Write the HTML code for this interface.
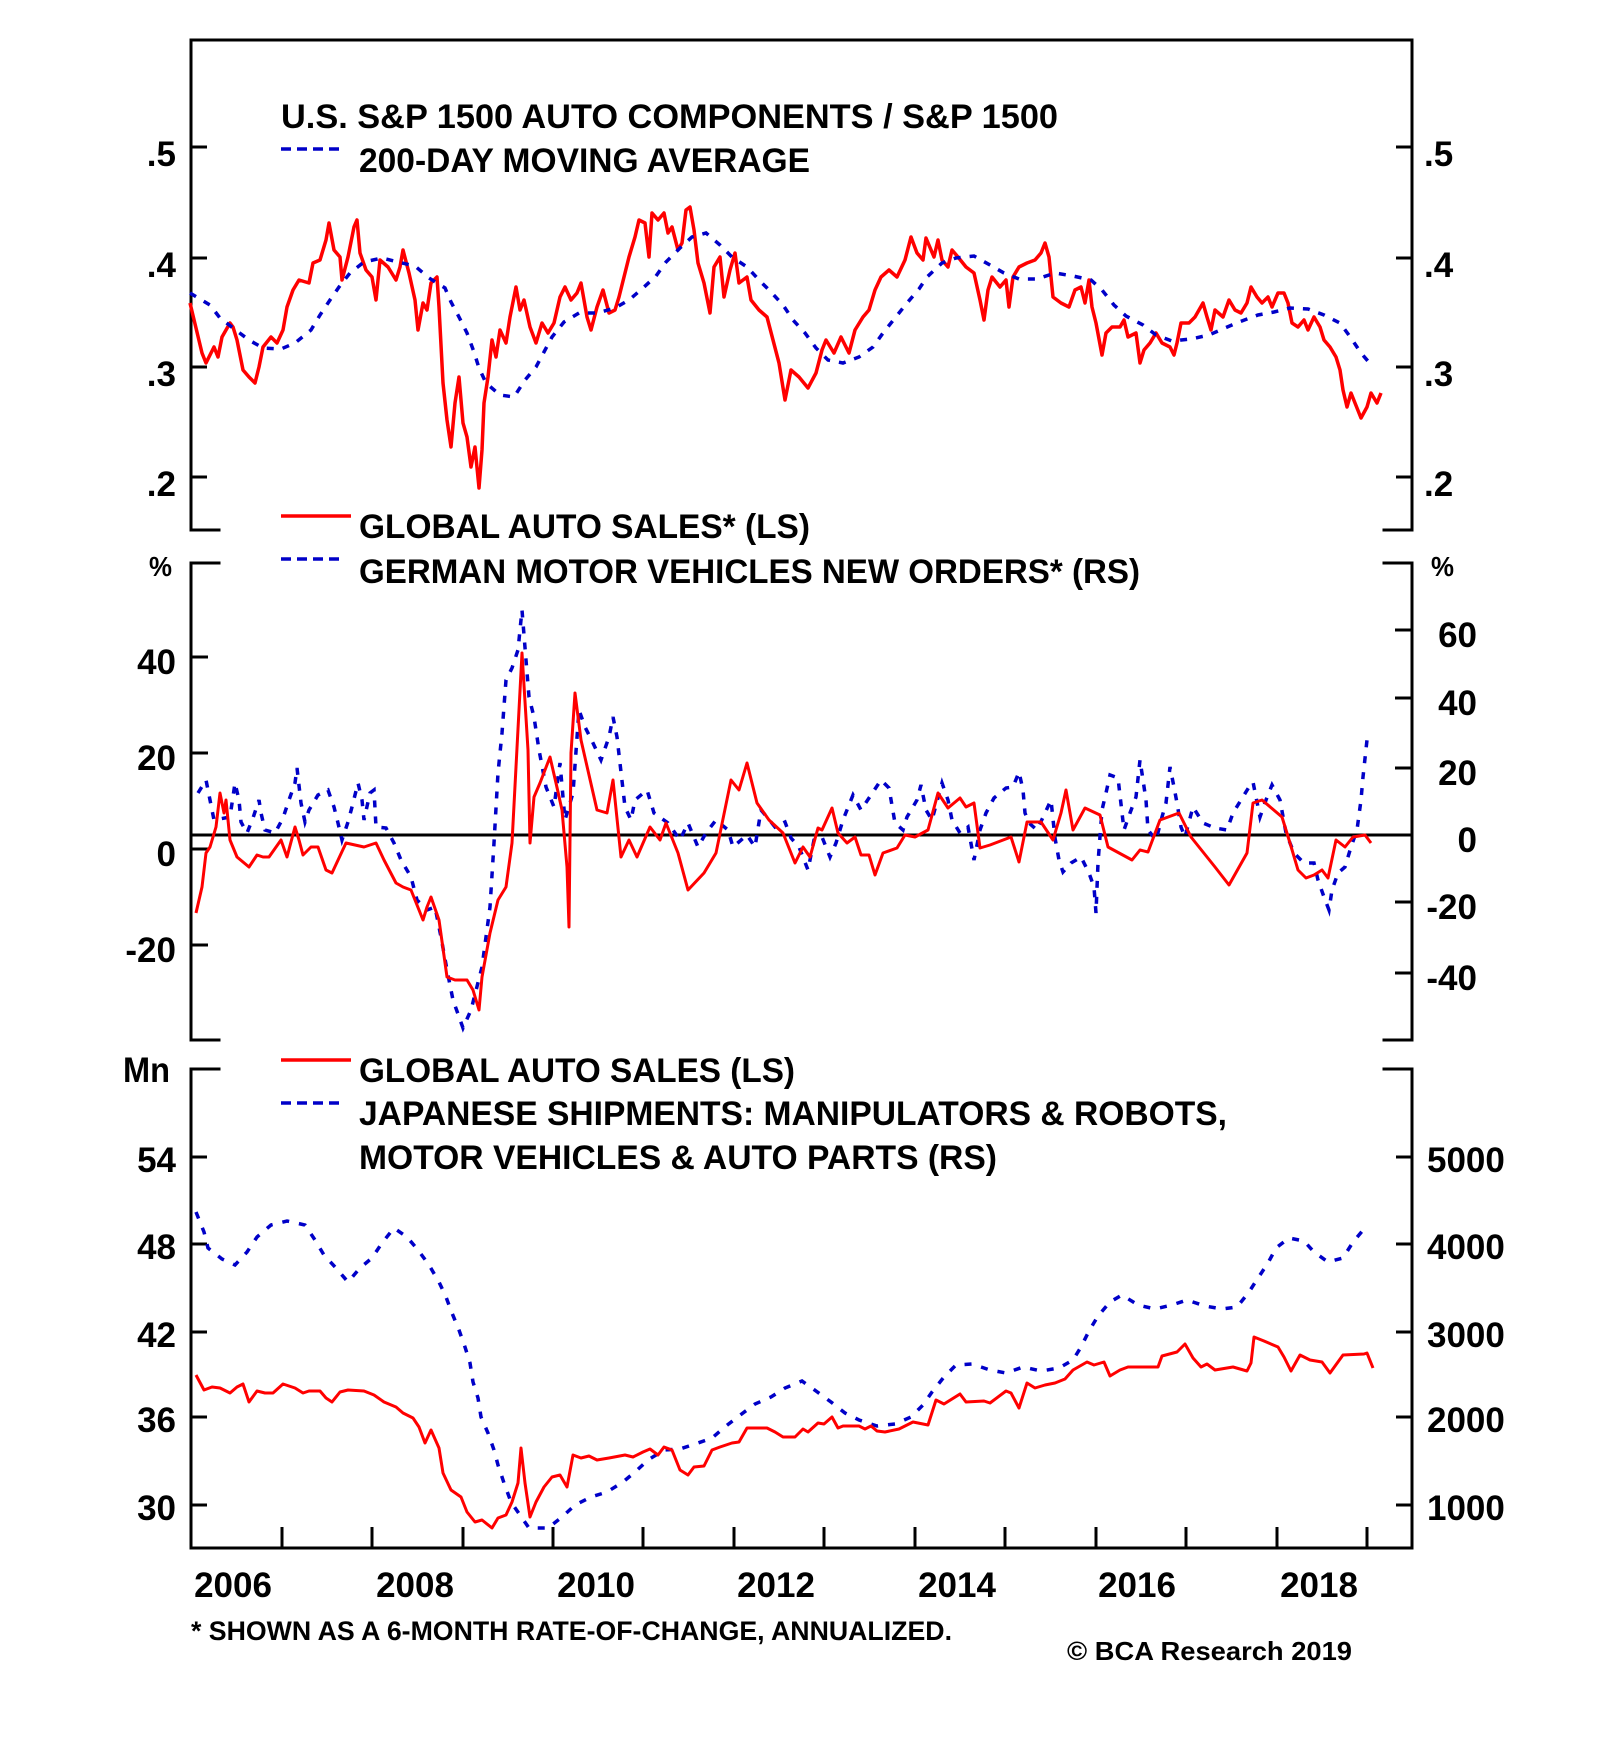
<!DOCTYPE html>
<html>
<head>
<meta charset="utf-8">
<style>
  html, body { margin: 0; padding: 0; background: #ffffff; }
  svg { display: block; }
  text { font-family: "Liberation Sans", Arial, sans-serif; font-weight: bold; fill: #000; }
</style>
</head>
<body>
<svg width="1600" height="1758" viewBox="0 0 1600 1758" xmlns="http://www.w3.org/2000/svg">
  <rect x="0" y="0" width="1600" height="1758" fill="#fff"/>

  <!-- Frame -->
  <g stroke="#000" stroke-width="3" fill="none" stroke-linecap="square">
    <line x1="191" y1="40" x2="1412" y2="40"/>
    <line x1="191" y1="40" x2="191" y2="530"/>
    <line x1="1412" y1="40" x2="1412" y2="530"/>
    <line x1="191" y1="530" x2="219" y2="530"/>
    <line x1="1384" y1="530" x2="1412" y2="530"/>

    <line x1="191" y1="563" x2="219" y2="563"/>
    <line x1="1384" y1="563" x2="1412" y2="563"/>
    <line x1="191" y1="563" x2="191" y2="1040"/>
    <line x1="1412" y1="563" x2="1412" y2="1040"/>
    <line x1="191" y1="1040" x2="219" y2="1040"/>
    <line x1="1384" y1="1040" x2="1412" y2="1040"/>

    <line x1="191" y1="1069" x2="219" y2="1069"/>
    <line x1="1384" y1="1069" x2="1412" y2="1069"/>
    <line x1="191" y1="1069" x2="191" y2="1548"/>
    <line x1="1412" y1="1069" x2="1412" y2="1548"/>
    <line x1="191" y1="1548" x2="1412" y2="1548"/>
  </g>

  <!-- Ticks -->
  <g stroke="#000" stroke-width="3">
    <!-- panel 1 -->
    <line x1="191" y1="147" x2="207" y2="147"/>
    <line x1="191" y1="258" x2="207" y2="258"/>
    <line x1="191" y1="367" x2="207" y2="367"/>
    <line x1="191" y1="477" x2="207" y2="477"/>
    <line x1="1396" y1="147" x2="1412" y2="147"/>
    <line x1="1396" y1="258" x2="1412" y2="258"/>
    <line x1="1396" y1="367" x2="1412" y2="367"/>
    <line x1="1396" y1="477" x2="1412" y2="477"/>
    <!-- panel 2 left -->
    <line x1="191" y1="657" x2="208" y2="657"/>
    <line x1="191" y1="753" x2="208" y2="753"/>
    <line x1="191" y1="849" x2="208" y2="849"/>
    <line x1="191" y1="945" x2="208" y2="945"/>
    <!-- panel 2 right -->
    <line x1="1395" y1="630" x2="1412" y2="630"/>
    <line x1="1395" y1="698" x2="1412" y2="698"/>
    <line x1="1395" y1="768" x2="1412" y2="768"/>
    <line x1="1395" y1="902" x2="1412" y2="902"/>
    <line x1="1395" y1="973" x2="1412" y2="973"/>
    <!-- panel 3 -->
    <line x1="191" y1="1157" x2="207" y2="1157"/>
    <line x1="191" y1="1244" x2="207" y2="1244"/>
    <line x1="191" y1="1332" x2="207" y2="1332"/>
    <line x1="191" y1="1417" x2="207" y2="1417"/>
    <line x1="191" y1="1505" x2="207" y2="1505"/>
    <line x1="1396" y1="1157" x2="1412" y2="1157"/>
    <line x1="1396" y1="1244" x2="1412" y2="1244"/>
    <line x1="1396" y1="1332" x2="1412" y2="1332"/>
    <line x1="1396" y1="1417" x2="1412" y2="1417"/>
    <line x1="1396" y1="1505" x2="1412" y2="1505"/>
    <!-- x ticks -->
    <line x1="282" y1="1527" x2="282" y2="1548"/>
    <line x1="372" y1="1527" x2="372" y2="1548"/>
    <line x1="463" y1="1527" x2="463" y2="1548"/>
    <line x1="553" y1="1527" x2="553" y2="1548"/>
    <line x1="643" y1="1527" x2="643" y2="1548"/>
    <line x1="734" y1="1527" x2="734" y2="1548"/>
    <line x1="824" y1="1527" x2="824" y2="1548"/>
    <line x1="915" y1="1527" x2="915" y2="1548"/>
    <line x1="1005" y1="1527" x2="1005" y2="1548"/>
    <line x1="1096" y1="1527" x2="1096" y2="1548"/>
    <line x1="1186" y1="1527" x2="1186" y2="1548"/>
    <line x1="1277" y1="1527" x2="1277" y2="1548"/>
    <line x1="1367" y1="1527" x2="1367" y2="1548"/>
  </g>

  <!-- Panel 2 zero line -->
  <line x1="191" y1="835" x2="1412" y2="835" stroke="#000" stroke-width="3"/>

  <!-- Axis labels panel 1 -->
  <g font-size="35">
    <text x="176" y="166" text-anchor="end">.5</text>
    <text x="176" y="277" text-anchor="end">.4</text>
    <text x="176" y="386" text-anchor="end">.3</text>
    <text x="176" y="496" text-anchor="end">.2</text>
    <text x="1424" y="166">.5</text>
    <text x="1424" y="277">.4</text>
    <text x="1424" y="386">.3</text>
    <text x="1424" y="496">.2</text>

    <!-- panel 2 -->
    <text x="176" y="674" text-anchor="end">40</text>
    <text x="176" y="770" text-anchor="end">20</text>
    <text x="176" y="866" text-anchor="end">0</text>
    <text x="176" y="962" text-anchor="end">-20</text>
    <text x="1477" y="647" text-anchor="end">60</text>
    <text x="1477" y="715" text-anchor="end">40</text>
    <text x="1477" y="785" text-anchor="end">20</text>
    <text x="1477" y="852" text-anchor="end">0</text>
    <text x="1477" y="919" text-anchor="end">-20</text>
    <text x="1477" y="990" text-anchor="end">-40</text>

    <!-- panel 3 -->
    <text x="176" y="1172" text-anchor="end">54</text>
    <text x="176" y="1259" text-anchor="end">48</text>
    <text x="176" y="1347" text-anchor="end">42</text>
    <text x="176" y="1432" text-anchor="end">36</text>
    <text x="176" y="1520" text-anchor="end">30</text>
    <text x="1427" y="1172">5000</text>
    <text x="1427" y="1259">4000</text>
    <text x="1427" y="1347">3000</text>
    <text x="1427" y="1432">2000</text>
    <text x="1427" y="1520">1000</text>

    <!-- years -->
    <text x="233" y="1597" text-anchor="middle">2006</text>
    <text x="415" y="1597" text-anchor="middle">2008</text>
    <text x="596" y="1597" text-anchor="middle">2010</text>
    <text x="776" y="1597" text-anchor="middle">2012</text>
    <text x="957" y="1597" text-anchor="middle">2014</text>
    <text x="1137" y="1597" text-anchor="middle">2016</text>
    <text x="1319" y="1597" text-anchor="middle">2018</text>

    <text x="123" y="1082" textLength="47" lengthAdjust="spacingAndGlyphs">Mn</text>
  </g>
  <text x="149" y="576" font-size="28" textLength="23" lengthAdjust="spacingAndGlyphs">%</text>
  <text x="1431" y="576" font-size="28" textLength="23" lengthAdjust="spacingAndGlyphs">%</text>

  <!-- Legends / titles -->
  <g font-size="34">
    <text x="281" y="128" textLength="777" lengthAdjust="spacingAndGlyphs">U.S. S&amp;P 1500 AUTO COMPONENTS / S&amp;P 1500</text>
    <text x="359" y="172" textLength="451" lengthAdjust="spacingAndGlyphs">200-DAY MOVING AVERAGE</text>
    <text x="359" y="538" textLength="451" lengthAdjust="spacingAndGlyphs">GLOBAL AUTO SALES* (LS)</text>
    <text x="359" y="583" textLength="781" lengthAdjust="spacingAndGlyphs">GERMAN MOTOR VEHICLES NEW ORDERS* (RS)</text>
    <text x="359" y="1082" textLength="436" lengthAdjust="spacingAndGlyphs">GLOBAL AUTO SALES (LS)</text>
    <text x="359" y="1125" textLength="868" lengthAdjust="spacingAndGlyphs">JAPANESE SHIPMENTS: MANIPULATORS &amp; ROBOTS,</text>
    <text x="359" y="1169" textLength="638" lengthAdjust="spacingAndGlyphs">MOTOR VEHICLES &amp; AUTO PARTS (RS)</text>
  </g>
  <g stroke-width="3.5" fill="none">
    <line x1="281" y1="149" x2="342" y2="149" stroke="#0000c8" stroke-dasharray="10 6"/>
    <line x1="281" y1="516" x2="351" y2="516" stroke="#ff0000"/>
    <line x1="281" y1="559" x2="342" y2="559" stroke="#0000c8" stroke-dasharray="10 6"/>
    <line x1="281" y1="1060" x2="351" y2="1060" stroke="#ff0000"/>
    <line x1="281" y1="1103" x2="342" y2="1103" stroke="#0000c8" stroke-dasharray="10 6"/>
  </g>

  <text x="191" y="1640" font-size="27" textLength="761" lengthAdjust="spacingAndGlyphs">* SHOWN AS A 6-MONTH RATE-OF-CHANGE, ANNUALIZED.</text>
  <text x="1067" y="1660" font-size="26" textLength="285" lengthAdjust="spacingAndGlyphs">© BCA Research 2019</text>

  <!-- Panel 1 series -->
  <polyline fill="none" stroke="#ff0000" stroke-width="3.5" stroke-linejoin="round" points="190,303 202,353 206,363 214,347 218,357 222,337 230,323 233,327 237,340 243,370 249,377 255,383 259,367 263,347 271,337 277,343 283,330 287,307 293,290 299,280 309,283 313,263 320,260 326,240 329,223 334,250 340,257 342,280 348,257 354,227 357,220 360,253 366,270 372,277 376,300 380,260 388,267 396,280 400,267 403,250 409,273 415,300 418,330 423,303 427,310 431,283 437,277 439,307 443,383 447,420 451,447 455,403 459,377 463,423 467,437 471,467 475,447 479,488 482,450 484,403 488,377 492,340 496,357 500,330 506,343 510,317 516,287 520,310 524,300 530,327 536,343 542,323 548,333 554,323 560,297 565,287 571,300 577,293 581,283 587,317 591,330 597,307 603,290 609,313 615,310 619,297 625,273 629,257 635,237 639,220 645,223 649,257 652,213 658,220 664,213 668,233 672,227 678,250 682,243 686,210 690,207 694,230 698,263 704,283 710,313 714,267 720,257 724,297 730,270 735,253 739,283 747,277 751,300 759,310 767,317 773,340 779,363 785,400 791,370 799,377 808,388 816,373 822,350 826,340 834,353 841,337 849,353 855,330 863,317 869,310 875,290 881,277 889,270 897,277 905,260 911,237 917,253 923,260 926,238 934,257 938,240 942,260 948,267 952,250 958,257 966,267 974,273 980,300 984,320 988,290 992,277 1000,287 1006,280 1009,307 1013,277 1019,267 1027,263 1035,260 1041,253 1045,243 1049,257 1053,297 1061,303 1069,307 1075,290 1081,287 1085,303 1089,280 1092,307 1096,323 1102,355 1106,333 1112,327 1120,327 1124,320 1128,337 1136,333 1140,363 1144,350 1150,343 1156,333 1162,343 1170,347 1174,355 1177,343 1181,323 1189,323 1195,317 1203,303 1207,317 1211,330 1215,310 1223,317 1229,300 1235,310 1241,313 1247,303 1251,287 1257,297 1262,303 1268,297 1272,307 1278,293 1284,293 1288,303 1292,323 1298,327 1304,320 1308,330 1314,317 1320,327 1324,340 1330,347 1336,357 1340,370 1343,390 1347,407 1351,393 1355,403 1361,418 1367,407 1371,393 1377,403 1381,393"/>
  <polyline fill="none" stroke="#0000c8" stroke-width="3.5" stroke-dasharray="7 9" points="190,293 210,305 220,318 233,328 249,340 263,348 281,349 295,343 311,330 320,315 330,300 339,287 350,273 364,262 382,258 398,262 415,266 429,278 445,288 451,302 459,317 467,333 474,352 479,368 486,383 500,395 514,397 525,380 536,367 544,352 552,337 564,322 579,313 597,313 615,308 629,300 643,288 656,276 666,262 680,248 692,237 706,233 720,245 732,257 747,267 759,280 771,292 783,305 793,320 805,333 816,348 828,360 843,363 859,357 873,347 883,333 895,318 907,303 919,289 927,277 942,263 956,258 974,256 990,265 1004,273 1019,279 1037,279 1055,273 1073,276 1091,280 1102,290 1114,305 1126,316 1143,325 1156,335 1172,341 1191,339 1209,335 1225,328 1239,322 1258,315 1274,312 1290,308 1308,309 1324,315 1340,323 1351,338 1361,353 1373,367"/>

  <!-- Panel 2 series -->
  <polyline fill="none" stroke="#0000c8" stroke-width="3.5" stroke-dasharray="7 9" points="198,793 206,780 210,800 214,820 230,817 235,783 239,800 241,822 247,833 253,818 259,800 261,813 265,830 275,833 283,818 289,800 295,783 297,768 301,803 305,822 309,810 318,795 328,790 334,807 338,823 342,840 348,822 352,807 358,783 362,800 364,820 370,793 374,790 376,827 386,828 394,843 401,860 411,877 417,900 427,910 435,907 441,937 447,970 453,1000 463,1028 471,1010 482,967 490,907 494,843 498,773 502,733 506,680 512,668 518,650 522,610 526,660 529,697 534,717 539,750 546,787 554,807 560,763 565,820 573,793 579,710 585,727 593,743 601,760 609,737 613,717 617,737 621,772 625,807 631,820 635,800 647,790 654,813 668,823 680,840 688,823 698,847 706,833 716,820 728,830 733,847 747,835 755,847 761,810 767,817 775,827 785,822 791,838 799,847 808,870 814,840 822,837 830,857 836,843 843,820 853,795 861,810 869,798 881,780 889,788 895,823 903,830 907,817 917,800 921,785 926,810 932,820 942,783 948,800 952,820 960,833 968,827 974,860 980,830 986,813 994,798 1006,788 1013,787 1019,772 1023,790 1025,813 1029,823 1037,830 1045,813 1051,800 1055,838 1059,860 1063,872 1071,863 1081,857 1089,873 1094,887 1096,913 1098,863 1102,810 1106,793 1110,775 1118,778 1124,830 1130,813 1136,797 1140,760 1146,800 1148,830 1156,840 1162,817 1166,803 1170,767 1174,787 1177,803 1181,827 1185,837 1193,807 1203,823 1215,828 1227,830 1233,813 1241,800 1249,787 1253,782 1260,817 1266,800 1272,785 1280,800 1286,833 1294,853 1304,863 1314,863 1318,880 1324,897 1329,910 1332,890 1338,873 1345,867 1351,847 1357,830 1361,800 1363,777 1367,740"/>
  <polyline fill="none" stroke="#ff0000" stroke-width="3" stroke-linejoin="round" points="196,913 202,887 206,853 210,847 216,827 220,793 224,813 226,800 230,840 237,857 249,867 257,855 263,857 269,857 281,840 287,857 295,827 299,840 303,855 311,847 318,847 326,870 332,873 346,843 364,847 376,843 384,860 396,883 403,887 411,890 423,920 427,907 431,897 439,920 447,977 455,980 467,980 473,990 479,1010 482,977 490,933 498,900 506,887 512,843 516,767 522,653 528,750 530,843 534,797 540,783 550,757 556,783 562,810 567,867 569,927 571,753 575,693 581,740 597,810 607,813 613,780 621,857 629,840 637,857 650,827 660,840 666,823 678,853 688,890 704,873 716,853 731,780 739,790 747,763 757,803 769,820 783,833 795,863 803,847 810,857 818,828 822,830 832,808 838,833 847,843 855,837 861,855 869,855 875,875 883,853 897,848 905,835 915,837 928,830 938,793 948,808 960,798 966,807 974,803 980,848 990,845 1011,837 1019,862 1027,822 1041,822 1053,840 1061,813 1066,790 1073,830 1085,808 1100,815 1108,847 1132,860 1140,850 1148,852 1160,820 1179,813 1191,837 1215,867 1229,885 1247,853 1253,803 1262,800 1282,817 1290,843 1298,870 1306,878 1314,875 1322,870 1328,878 1336,840 1345,847 1353,837 1365,835 1371,843"/>

  <!-- Panel 3 series -->
  <polyline fill="none" stroke="#0000c8" stroke-width="3.5" stroke-dasharray="7 10" points="196,1212 204,1232 208,1248 222,1259 235,1265 247,1252 257,1237 271,1225 287,1221 305,1225 315,1240 324,1255 336,1268 348,1282 360,1268 372,1258 382,1243 394,1228 407,1237 418,1250 429,1265 439,1282 446,1297 452,1313 459,1330 465,1347 470,1363 473,1382 478,1398 481,1417 488,1433 494,1450 498,1465 504,1483 511,1502 520,1515 529,1528 548,1528 562,1517 575,1505 591,1497 607,1492 623,1482 635,1472 648,1460 664,1450 680,1449 698,1443 712,1438 726,1426 739,1416 755,1404 771,1397 785,1388 802,1381 816,1391 831,1402 845,1413 859,1420 877,1426 895,1424 911,1417 923,1405 932,1392 944,1377 956,1365 972,1364 990,1370 1006,1373 1023,1367 1041,1371 1059,1368 1073,1360 1081,1347 1089,1331 1098,1316 1110,1302 1122,1295 1138,1305 1155,1309 1172,1305 1187,1300 1205,1306 1222,1309 1237,1307 1249,1292 1258,1278 1268,1263 1276,1248 1289,1238 1304,1241 1314,1252 1328,1262 1343,1258 1353,1242 1364,1229"/>
  <polyline fill="none" stroke="#ff0000" stroke-width="3" stroke-linejoin="round" points="196,1375 204,1390 212,1387 220,1388 230,1393 237,1387 243,1384 249,1402 257,1391 265,1393 273,1393 283,1384 295,1388 303,1393 309,1391 320,1391 326,1398 332,1402 340,1392 348,1390 364,1391 374,1395 384,1402 396,1407 403,1413 413,1418 419,1427 425,1443 431,1430 439,1448 443,1473 451,1490 461,1497 467,1512 475,1522 482,1520 492,1528 498,1518 506,1515 512,1502 518,1483 521,1448 525,1483 530,1517 536,1502 544,1487 552,1477 560,1475 567,1487 573,1455 581,1458 589,1456 597,1460 609,1458 625,1455 633,1457 643,1452 650,1449 658,1455 664,1447 672,1450 680,1470 688,1475 694,1467 704,1466 712,1450 720,1447 732,1443 739,1442 747,1428 767,1428 775,1432 783,1437 795,1437 803,1429 808,1432 818,1423 824,1424 832,1417 838,1428 843,1426 859,1426 865,1429 871,1426 877,1431 885,1432 899,1429 913,1422 928,1425 936,1400 944,1404 960,1394 966,1402 984,1401 990,1403 1006,1391 1011,1393 1019,1408 1027,1383 1035,1388 1045,1385 1055,1383 1065,1379 1073,1370 1087,1362 1094,1365 1104,1362 1110,1376 1120,1370 1128,1367 1158,1367 1162,1356 1177,1352 1185,1344 1193,1358 1201,1367 1207,1364 1215,1370 1233,1367 1247,1371 1251,1363 1254,1337 1264,1341 1278,1347 1284,1357 1291,1371 1300,1355 1310,1360 1322,1362 1330,1373 1343,1355 1364,1354 1367,1353 1373,1368"/>
</svg>
</body>
</html>
